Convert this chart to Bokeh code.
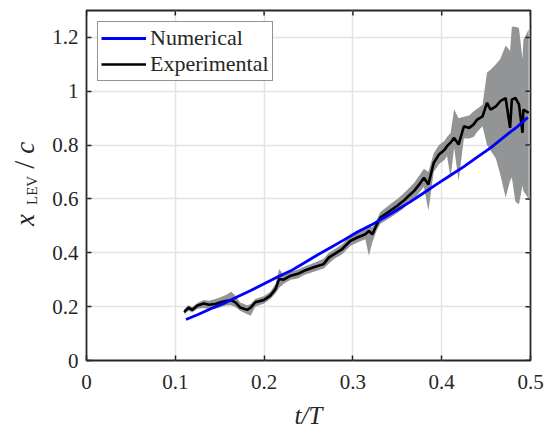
from bokeh.plotting import figure
from bokeh.layouts import row
from bokeh.models import FixedTicker, Legend, LegendItem, Div
from bokeh.embed import file_html
from bokeh.resources import INLINE

# ---------------- data ----------------
t_num = [0.112, 0.125, 0.140, 0.155, 0.170, 0.185, 0.200, 0.215, 0.230, 0.245,
         0.260, 0.275, 0.290, 0.305, 0.320, 0.335, 0.350, 0.365, 0.380, 0.395,
         0.410, 0.425, 0.440, 0.455, 0.470, 0.485, 0.497]
x_num = [0.152, 0.170, 0.192, 0.213, 0.237, 0.260, 0.285, 0.310, 0.333, 0.362,
         0.392, 0.420, 0.448, 0.477, 0.502, 0.530, 0.560, 0.590, 0.623, 0.656,
         0.688, 0.720, 0.755, 0.790, 0.830, 0.868, 0.903]

t_exp = [0.110, 0.115, 0.119, 0.125, 0.132, 0.138, 0.145, 0.151, 0.158, 0.163,
         0.168, 0.173, 0.181, 0.185, 0.190, 0.200, 0.207, 0.213, 0.217, 0.222,
         0.230, 0.238, 0.245, 0.256, 0.267, 0.273, 0.279, 0.288, 0.297, 0.305,
         0.314, 0.318, 0.322, 0.327, 0.331, 0.342, 0.350, 0.357, 0.363, 0.369,
         0.375, 0.380, 0.385, 0.391, 0.397, 0.403, 0.406, 0.410, 0.414, 0.419,
         0.425, 0.431, 0.436, 0.440, 0.446, 0.451, 0.455, 0.461, 0.466, 0.472,
         0.477, 0.479, 0.483, 0.487, 0.491, 0.492, 0.498]
x_exp = [0.180, 0.197, 0.188, 0.204, 0.212, 0.207, 0.210, 0.216, 0.222, 0.224,
         0.215, 0.197, 0.188, 0.197, 0.216, 0.225, 0.241, 0.266, 0.303, 0.300,
         0.315, 0.322, 0.333, 0.346, 0.358, 0.383, 0.395, 0.414, 0.444, 0.457,
         0.469, 0.481, 0.469, 0.506, 0.531, 0.556, 0.575, 0.593, 0.612, 0.630,
         0.655, 0.679, 0.654, 0.734, 0.765, 0.782, 0.796, 0.809, 0.827, 0.802,
         0.870, 0.864, 0.877, 0.895, 0.907, 0.957, 0.932, 0.944, 0.963, 0.975,
         0.864, 0.969, 0.975, 0.951, 0.846, 0.932, 0.920]
x_exp_lo = [0.172, 0.185, 0.178, 0.192, 0.195, 0.190, 0.192, 0.198, 0.205, 0.205,
            0.198, 0.185, 0.172, 0.167, 0.200, 0.212, 0.228, 0.250, 0.270, 0.285,
            0.300, 0.305, 0.318, 0.330, 0.342, 0.360, 0.378, 0.395, 0.425, 0.438,
            0.450, 0.389, 0.440, 0.485, 0.508, 0.530, 0.548, 0.565, 0.585, 0.600,
            0.625, 0.645, 0.556, 0.700, 0.730, 0.745, 0.760, 0.679, 0.790, 0.667,
            0.825, 0.825, 0.830, 0.850, 0.870, 0.800, 0.780, 0.750, 0.690, 0.605,
            0.667, 0.680, 0.590, 0.580, 0.650, 0.630, 0.600]
x_exp_hi = [0.190, 0.205, 0.198, 0.214, 0.225, 0.222, 0.228, 0.235, 0.245, 0.255,
            0.240, 0.215, 0.205, 0.210, 0.228, 0.240, 0.255, 0.285, 0.340, 0.318,
            0.330, 0.338, 0.348, 0.362, 0.378, 0.400, 0.412, 0.432, 0.462, 0.475,
            0.490, 0.498, 0.495, 0.525, 0.552, 0.580, 0.600, 0.620, 0.640, 0.660,
            0.688, 0.712, 0.700, 0.770, 0.800, 0.815, 0.830, 0.845, 0.933, 0.900,
            0.905, 0.910, 0.926, 0.935, 0.950, 1.070, 1.080, 1.100, 1.120, 1.170,
            1.150, 1.240, 1.240, 1.235, 1.120, 1.190, 1.230]

x_ticks = [0, 0.1, 0.2, 0.3, 0.4, 0.5]
x_tick_labels = ["0", "0.1", "0.2", "0.3", "0.4", "0.5"]
y_ticks = [0, 0.2, 0.4, 0.6, 0.8, 1.0, 1.2]
y_tick_labels = ["0", "0.2", "0.4", "0.6", "0.8", "1", "1.2"]

series_names = ["Numerical", "Experimental"]
y_label_parts = ["x", "LEV", "/", "c"]   # x_LEV / c

# ---------------- layout constants ----------------
FONT = "Liberation Serif"
DARK = "#262626"
X0, X1, Y0, Y1 = 0, 0.5, 0, 1.3
W, H = 554, 431
LW = 40                      # width of the strip that carries the y-axis label
ML, MR, MT, MB = 86, 24, 10, 71
FW, FH = W - ML - MR, H - MT - MB

# ---------------- y-label strip: rotated HTML text ----------------
lab_html = (
    '<div style="position:relative;width:%dpx;height:%dpx;">'
    '<div style="position:absolute;left:11px;top:226px;transform:rotate(-90deg);'
    'transform-origin:0 0;white-space:nowrap;font-family:\'%s\';color:%s;'
    'font-size:27px;line-height:27px;">'
    '<i style="margin-right:9px;">%s</i>'
    '<span style="font-size:15px;position:relative;top:2.5px;">%s</span>'
    '<span style="margin-left:7px;margin-right:7px;font-size:29px;">%s</span>'
    '<i>%s</i>'
    '</div></div>'
) % (LW, H, FONT, DARK, *y_label_parts)
lab = Div(text=lab_html, width=LW, height=H, margin=(0, 0, 0, 0))

# ---------------- main plot ----------------
p = figure(width=W - LW, height=H, x_range=(X0, X1), y_range=(Y0, Y1),
           output_backend="svg", toolbar_location=None,
           min_border_left=ML - LW, min_border_right=MR,
           min_border_top=MT, min_border_bottom=MB)
p.background_fill_color = "white"
p.border_fill_color = "white"
p.outline_line_color = DARK
p.outline_line_width = 1.8

band = p.varea(x=t_exp, y1=x_exp_lo, y2=x_exp_hi, fill_color="#929496", fill_alpha=1.0)
r_exp = p.line(t_exp, x_exp, line_color="black", line_width=2.6)
r_num = p.line(t_num, x_num, line_color="#0000ff", line_width=2.8)

xt = FixedTicker(ticks=x_ticks)
yt = FixedTicker(ticks=y_ticks)

for ax, ticker, ticks, labels in ((p.xaxis[0], xt, x_ticks, x_tick_labels),
                                  (p.yaxis[0], yt, y_ticks, y_tick_labels)):
    ax.ticker = ticker
    ax.axis_line_color = None
    ax.major_tick_in = 5
    ax.major_tick_out = 0
    ax.major_tick_line_color = DARK
    ax.major_tick_line_width = 1.5
    ax.minor_tick_line_color = None
    ax.major_label_overrides = {v: s for v, s in zip(ticks, labels)}
    ax.major_label_text_font = FONT
    ax.major_label_text_font_size = "21px"
    ax.major_label_text_color = DARK
p.xaxis[0].major_label_standoff = 14
p.yaxis[0].major_label_standoff = 8

p.xaxis[0].axis_label = "t/T"
p.xaxis[0].axis_label_text_font = FONT
p.xaxis[0].axis_label_text_font_size = "25px"
p.xaxis[0].axis_label_text_font_style = "italic"
p.xaxis[0].axis_label_text_color = DARK
p.xaxis[0].axis_label_standoff = 10

# inward ticks on the top and right frame edges (box on)
tick_dx = 5 * (X1 - X0) / FW
tick_dy = 5 * (Y1 - Y0) / FH
p.segment(x0=x_ticks, y0=[Y1] * len(x_ticks), x1=x_ticks, y1=[Y1 - tick_dy] * len(x_ticks),
          line_color=DARK, line_width=1.5)
p.segment(x0=[X1] * len(y_ticks), y0=y_ticks, x1=[X1 - tick_dx] * len(y_ticks), y1=y_ticks,
          line_color=DARK, line_width=1.5)

p.xgrid.ticker = xt
p.ygrid.ticker = yt
p.xgrid.grid_line_color = "#e3e3e3"
p.ygrid.grid_line_color = "#e3e3e3"
p.xgrid.grid_line_width = 1.5
p.ygrid.grid_line_width = 1.5

legend = Legend(items=[LegendItem(label=series_names[0], renderers=[r_num]),
                       LegendItem(label=series_names[1], renderers=[r_exp])],
                location="top_left")
legend.margin = 11
legend.padding = 3
legend.spacing = 0
legend.glyph_width = 45
legend.glyph_height = 24
legend.label_height = 24
legend.label_standoff = 4
legend.label_text_font = FONT
legend.label_text_font_size = "22px"
legend.label_text_color = DARK
legend.border_line_color = DARK
legend.border_line_width = 1.5
legend.background_fill_color = "white"
legend.background_fill_alpha = 1.0
p.add_layout(legend)

layout = row(lab, p, spacing=0)
open("out.html", "w").write(file_html(layout, INLINE))
